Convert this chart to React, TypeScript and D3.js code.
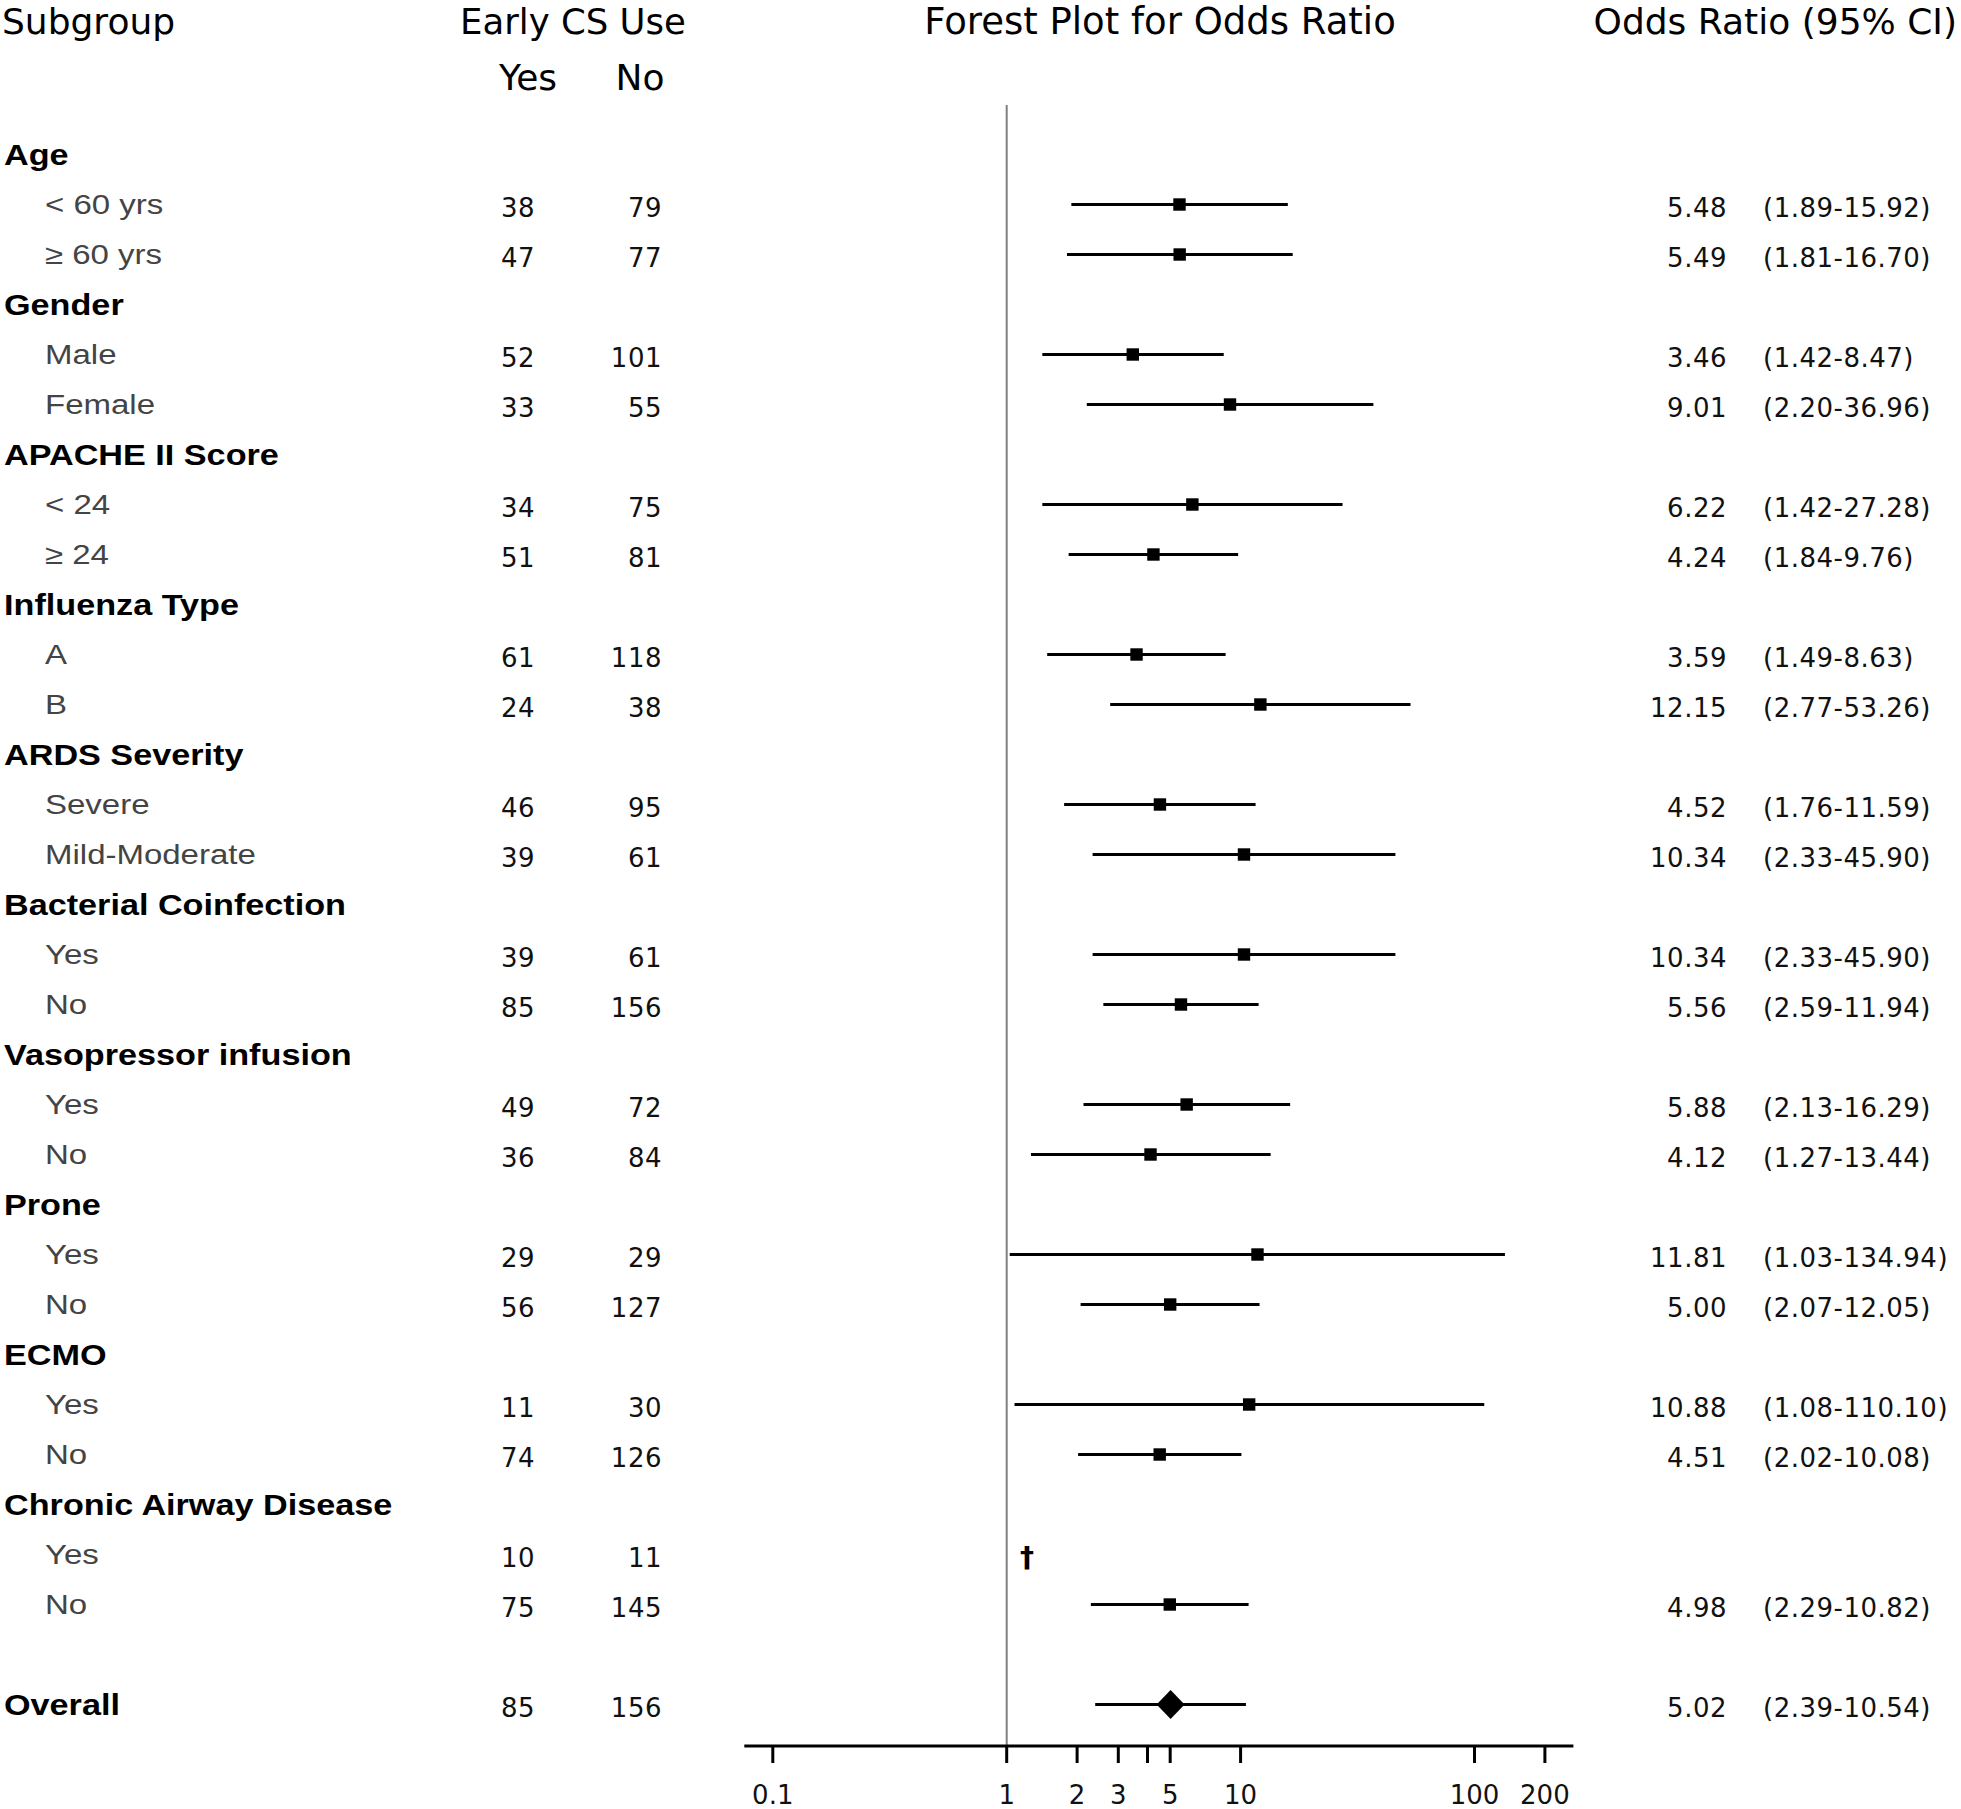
import React from "react";
import * as d3 from "d3";

// ---------- data ----------
const groupNames = [
  "Age",
  "Gender",
  "APACHE II Score",
  "Influenza Type",
  "ARDS Severity",
  "Bacterial Coinfection",
  "Vasopressor infusion",
  "Prone",
  "ECMO",
  "Chronic Airway Disease",
];
const subgroupNames = [
  ["< 60 yrs", "≥ 60 yrs"],
  ["Male", "Female"],
  ["< 24", "≥ 24"],
  ["A", "B"],
  ["Severe", "Mild-Moderate"],
  ["Yes", "No"],
  ["Yes", "No"],
  ["Yes", "No"],
  ["Yes", "No"],
  ["Yes", "No"],
];
const yesCounts = [[38, 47], [52, 33], [34, 51], [61, 24], [46, 39], [39, 85], [49, 36], [29, 56], [11, 74], [10, 75]];
const noCounts = [[79, 77], [101, 55], [75, 81], [118, 38], [95, 61], [61, 156], [72, 84], [29, 127], [30, 126], [11, 145]];
const oddsRatios: (number | null)[][] = [
  [5.48, 5.49], [3.46, 9.01], [6.22, 4.24], [3.59, 12.15], [4.52, 10.34],
  [10.34, 5.56], [5.88, 4.12], [11.81, 5.0], [10.88, 4.51], [null, 4.98],
];
const ciLower: (number | null)[][] = [
  [1.89, 1.81], [1.42, 2.2], [1.42, 1.84], [1.49, 2.77], [1.76, 2.33],
  [2.33, 2.59], [2.13, 1.27], [1.03, 2.07], [1.08, 2.02], [null, 2.29],
];
const ciUpper: (number | null)[][] = [
  [15.92, 16.7], [8.47, 36.96], [27.28, 9.76], [8.63, 53.26], [11.59, 45.9],
  [45.9, 11.94], [16.29, 13.44], [134.94, 12.05], [110.1, 10.08], [null, 10.82],
];
const overallLabel = "Overall";
const overallYes = 85;
const overallNo = 156;
const overallOR = 5.02;
const overallLower = 2.39;
const overallUpper = 10.54;
const estimableNote = "†";

const axisTicks = [0.1, 1, 2, 3, 4, 5, 10, 100, 200];
const axisTickLabels = ["0.1", "1", "2", "3", "", "5", "10", "100", "200"];

// ---------- layout ----------
const W = 1961;
const H = 1809;
const ARIAL = "'Liberation Sans', Arial, sans-serif";
const DEJAVU = "'DejaVu Sans', Verdana, sans-serif";

type Row = {
  label: string;
  kind: "group" | "sub" | "overall";
  yes?: number;
  no?: number;
  or?: number | null;
  lo?: number | null;
  hi?: number | null;
  dagger?: boolean;
};

function buildRows(): Row[] {
  const rows: Row[] = [];
  groupNames.forEach((g, gi) => {
    rows.push({ label: g, kind: "group" });
    subgroupNames[gi].forEach((s, si) => {
      const or = oddsRatios[gi][si];
      rows.push({
        label: s,
        kind: "sub",
        yes: yesCounts[gi][si],
        no: noCounts[gi][si],
        or,
        lo: ciLower[gi][si],
        hi: ciUpper[gi][si],
        dagger: or === null,
      });
    });
  });
  rows.push({ label: "", kind: "group" });
  rows.push({
    label: overallLabel,
    kind: "overall",
    yes: overallYes,
    no: overallNo,
    or: overallOR,
    lo: overallLower,
    hi: overallUpper,
  });
  return rows;
}

const fmt2 = d3.format(".2f");

const StretchText = ({ x, y, sx, anchor = "start", children, ...rest }: any) => (
  <text transform={`translate(${x},${y}) scale(${sx},1)`} textAnchor={anchor} {...rest}>
    {children}
  </text>
);

export default function App() {
  const rows = buildRows();
  const x = d3.scaleLog().domain([0.1, 200]).range([772.8, 1544.9]);
  const y = d3.scaleLinear().domain([0, rows.length - 1]).range([154.5, 154.5 + 50 * (rows.length - 1)]);

  const axisY = 1746;
  const axisPad = 28.5;
  const refTop = 105;

  const colYesRight = 535;
  const colNoRight = 662;
  const orRight = 1727;
  const ciLeft = 1763;

  const numStyle = { fontFamily: DEJAVU, fontSize: 26, fill: "#111", letterSpacing: 0.5 };

  return (
    <svg
      width={W}
      height={H}
      viewBox={`0 0 ${W} ${H}`}
      style={{ position: "absolute", left: 0, top: 0, background: "#fff" }}
    >
      <rect x={0} y={0} width={W} height={H} fill="#fff" />

      {/* Column headers */}
      <g style={{ fontFamily: DEJAVU, fill: "#000" }}>
        <text x={2} y={34} fontSize={36}>Subgroup</text>
        <text x={573} y={34} fontSize={35.5} textAnchor="middle">Early CS Use</text>
        <text x={528} y={90} fontSize={36} textAnchor="middle">Yes</text>
        <text x={640} y={90} fontSize={36} textAnchor="middle">No</text>
        <text x={1160} y={34} fontSize={37} textAnchor="middle">Forest Plot for Odds Ratio</text>
        <text x={1957} y={34} fontSize={36} textAnchor="end">Odds Ratio (95% CI)</text>
      </g>

      {/* Reference line at OR = 1 */}
      <line x1={x(1)} x2={x(1)} y1={refTop} y2={axisY} stroke="#7f7f7f" strokeWidth={2} />

      {/* Rows */}
      {rows.map((r, i) => {
        const cy = y(i);
        const isBold = r.kind !== "sub";
        return (
          <g key={i}>
            {r.label &&
              (isBold ? (
                <StretchText x={4} y={cy + 10.7} sx={1.14} fontFamily={ARIAL} fontWeight="bold" fontSize={30} fill="#000">
                  {r.label}
                </StretchText>
              ) : (
                <StretchText x={45} y={cy + 9.8} sx={1.2} fontFamily={ARIAL} fontSize={27.5} fill="#444">
                  {r.label}
                </StretchText>
              ))}
            {r.yes !== undefined && (
              <text x={colYesRight} y={cy + 12} textAnchor="end" style={numStyle}>{r.yes}</text>
            )}
            {r.no !== undefined && (
              <text x={colNoRight} y={cy + 12} textAnchor="end" style={numStyle}>{r.no}</text>
            )}
            {r.or != null && r.lo != null && r.hi != null && (
              <>
                <line x1={x(r.lo)} x2={x(r.hi)} y1={cy} y2={cy} stroke="#000" strokeWidth={3.2} />
                {r.kind === "overall" ? (
                  <path
                    d={`M${x(r.or) - 14},${cy} L${x(r.or)},${cy - 14.5} L${x(r.or) + 14},${cy} L${x(r.or)},${cy + 14.5} Z`}
                    fill="#000"
                  />
                ) : (
                  <rect x={x(r.or) - 6.2} y={cy - 6.2} width={12.4} height={12.4} fill="#000" />
                )}
                <text x={orRight} y={cy + 12} textAnchor="end" style={numStyle}>{fmt2(r.or)}</text>
                <text x={ciLeft} y={cy + 12} style={numStyle}>{`(${fmt2(r.lo)}-${fmt2(r.hi)})`}</text>
              </>
            )}
            {r.dagger && (
              <text x={1027} y={cy + 12} textAnchor="middle" fontFamily={DEJAVU} fontWeight="bold" fontSize={28} fill="#000">
                {estimableNote}
              </text>
            )}
          </g>
        );
      })}

      {/* X axis */}
      <line
        x1={x(0.1) - axisPad}
        x2={x(200) + axisPad}
        y1={axisY}
        y2={axisY}
        stroke="#000"
        strokeWidth={3}
      />
      {axisTicks.map((t, i) => (
        <g key={t}>
          <line x1={x(t)} x2={x(t)} y1={axisY} y2={axisY + 17} stroke="#000" strokeWidth={3} />
          {axisTickLabels[i] && (
            <text x={x(t)} y={axisY + 58} textAnchor="middle" style={{ fontFamily: DEJAVU, fontSize: 26, fill: "#111" }}>
              {axisTickLabels[i]}
            </text>
          )}
        </g>
      ))}
    </svg>
  );
}
